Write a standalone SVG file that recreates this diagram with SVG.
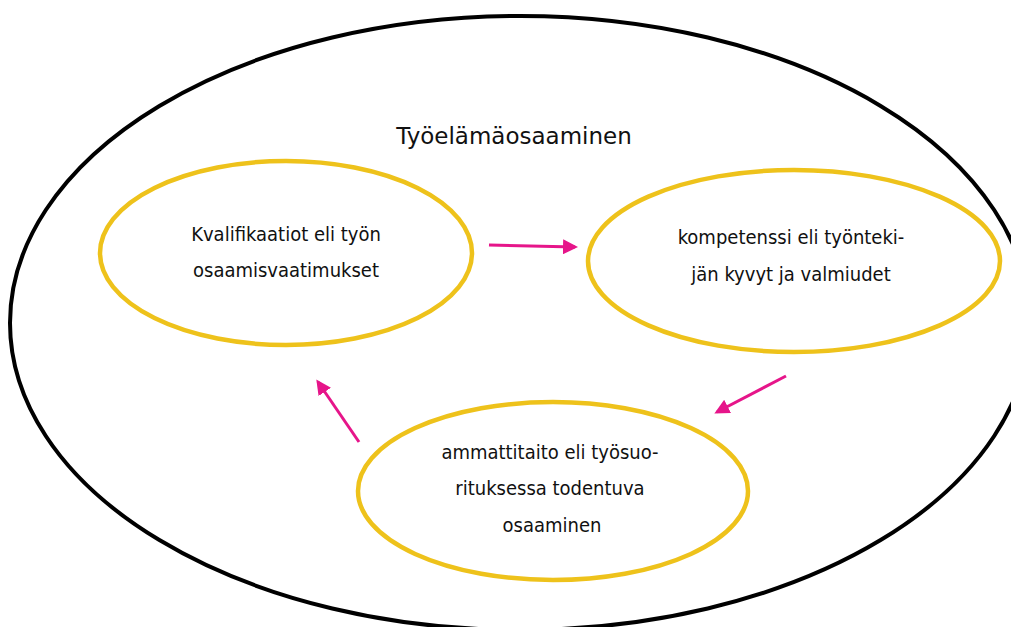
<svg xmlns="http://www.w3.org/2000/svg" width="1011" height="627" viewBox="0 0 1011 627">
<defs>
<style>
.outer{fill:none;stroke:#000;stroke-width:4}
.node{fill:none;stroke:#EEC21B;stroke-width:4.5}
.lbl{font-family:"DejaVu Sans Condensed","DejaVu Sans",sans-serif;font-size:20px;fill:#111;text-anchor:middle}
.title{font-family:"DejaVu Sans",sans-serif;font-size:23px;fill:#111;text-anchor:middle}
.conn{stroke:#E6158A;stroke-width:3;fill:none;marker-end:url(#ah)}
</style>
<marker id="ah" markerWidth="5" markerHeight="5" refX="4" refY="2.5" orient="auto" markerUnits="strokeWidth">
<path d="M0,0 L5,2.5 L0,5 z" fill="#E6158A"/>
</marker>
</defs>
<rect width="1011" height="627" fill="#fff"/>
<g id="outer">
<ellipse class="outer" cx="520" cy="323" rx="510" ry="307"/>
<text class="title" x="514" y="144">Työelämäosaaminen</text>
</g>
<g id="kvalifikaatiot">
<ellipse class="node" cx="286" cy="253" rx="186" ry="92"/>
<text class="lbl" x="286" y="241">Kvalifikaatiot eli työn</text>
<text class="lbl" x="286" y="277">osaamisvaatimukset</text>
</g>
<g id="kompetenssi">
<ellipse class="node" cx="794" cy="261" rx="206" ry="91"/>
<text class="lbl" x="791" y="244">kompetenssi eli työnteki-</text>
<text class="lbl" x="791" y="281">jän kyvyt ja valmiudet</text>
</g>
<g id="ammattitaito">
<ellipse class="node" cx="553" cy="491" rx="195" ry="89"/>
<text class="lbl" x="550" y="459">ammattitaito eli työsuo-</text>
<text class="lbl" x="550" y="495">rituksessa todentuva</text>
<text class="lbl" x="552" y="532">osaaminen</text>
</g>
<g id="connectors">
<line class="conn" x1="489" y1="245" x2="575" y2="247"/>
<line class="conn" x1="786" y1="376" x2="717" y2="412"/>
<line class="conn" x1="359" y1="442" x2="318" y2="382"/>
</g>
</svg>
